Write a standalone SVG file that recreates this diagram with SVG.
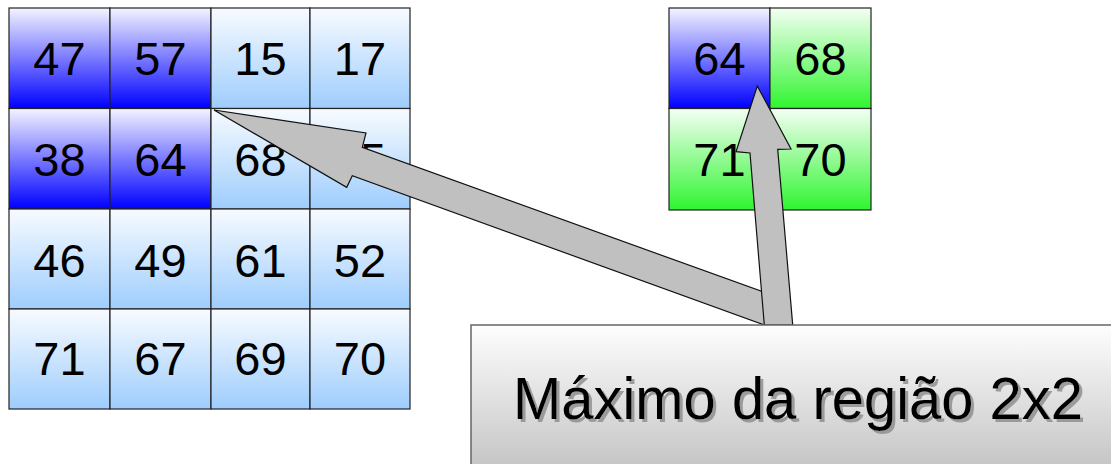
<svg xmlns="http://www.w3.org/2000/svg" width="1111" height="464" viewBox="0 0 1111 464">
<defs>
<linearGradient id="gBlue" x1="0" y1="0" x2="0" y2="1"><stop offset="0" stop-color="#f4f4ff"/><stop offset="1" stop-color="#0000ff"/></linearGradient>
<linearGradient id="gLight" x1="0" y1="0" x2="0" y2="1"><stop offset="0" stop-color="#f8fbff"/><stop offset="1" stop-color="#9ecdfd"/></linearGradient>
<linearGradient id="gGreen" x1="0" y1="0" x2="0" y2="1"><stop offset="0" stop-color="#f4fff4"/><stop offset="1" stop-color="#2ff52f"/></linearGradient>
<linearGradient id="gBox" x1="0" y1="0" x2="0" y2="1"><stop offset="0" stop-color="#fefefe"/><stop offset="1" stop-color="#c2c2c2"/></linearGradient>
<filter id="shadow" x="-5%" y="-20%" width="110%" height="140%">
<feOffset in="SourceAlpha" dx="3" dy="3" result="off"/>
<feFlood flood-color="#8a8a8a" flood-opacity="0.8"/>
<feComposite in2="off" operator="in" result="sh"/>
<feMerge><feMergeNode in="sh"/><feMergeNode in="SourceGraphic"/></feMerge>
</filter>
<style>
.c{stroke:#222;stroke-width:1.2}
.b{fill:url(#gBlue)}
.l{fill:url(#gLight)}
.g{fill:url(#gGreen)}
.t{font-family:"Liberation Sans",Arial,sans-serif;font-size:47px;fill:#000;text-anchor:middle}
.arrow{fill:#c0c0c0;stroke:#111;stroke-width:1.2;stroke-linejoin:miter}
</style>
</defs>
<g id="input-grid">
<rect class="c b" x="9" y="8" width="101" height="100.5"/><text class="t" x="59.5" y="75">47</text>
<rect class="c b" x="110" y="8" width="101" height="100.5"/><text class="t" x="160.5" y="75">57</text>
<rect class="c l" x="211" y="8" width="99" height="100.5"/><text class="t" x="260.5" y="75">15</text>
<rect class="c l" x="310" y="8" width="100" height="100.5"/><text class="t" x="360" y="75">17</text>
<rect class="c b" x="9" y="108.5" width="101" height="100.5"/><text class="t" x="59.5" y="176">38</text>
<rect class="c b" x="110" y="108.5" width="101" height="100.5"/><text class="t" x="160.5" y="176">64</text>
<rect class="c l" x="211" y="108.5" width="99" height="100.5"/><text class="t" x="260.5" y="176">68</text>
<rect class="c l" x="310" y="108.5" width="100" height="100.5"/><text class="t" x="360" y="176">25</text>
<rect class="c l" x="9" y="209" width="101" height="100"/><text class="t" x="59.5" y="276.5">46</text>
<rect class="c l" x="110" y="209" width="101" height="100"/><text class="t" x="160.5" y="276.5">49</text>
<rect class="c l" x="211" y="209" width="99" height="100"/><text class="t" x="260.5" y="276.5">61</text>
<rect class="c l" x="310" y="209" width="100" height="100"/><text class="t" x="360" y="276.5">52</text>
<rect class="c l" x="9" y="309" width="101" height="100"/><text class="t" x="59.5" y="375">71</text>
<rect class="c l" x="110" y="309" width="101" height="100"/><text class="t" x="160.5" y="375">67</text>
<rect class="c l" x="211" y="309" width="99" height="100"/><text class="t" x="260.5" y="375">69</text>
<rect class="c l" x="310" y="309" width="100" height="100"/><text class="t" x="360" y="375">70</text>
</g>
<g id="output-grid">
<rect class="c b" x="669" y="8" width="101" height="100.5"/><text class="t" x="719.5" y="75">64</text>
<rect class="c g" x="770" y="8" width="101" height="100.5"/><text class="t" x="820.5" y="75">68</text>
<rect class="c g" x="669" y="108.5" width="101" height="101.5"/><text class="t" x="719.5" y="176">71</text>
<rect class="c g" x="770" y="108.5" width="101" height="101.5"/><text class="t" x="820.5" y="176">70</text>
</g>
<g id="connectors">
<polygon class="arrow" points="214,110 366,133 362.3,147.3 774.5,296 764.3,325 352.3,175.7 346.7,187.3"/>
<polygon class="arrow" points="757.3,86 791,149 777.7,149.3 792.7,325 764.3,325 750,153 736,151.7"/>
</g>
<g id="label-box">
<rect x="471" y="325" width="700" height="150" fill="url(#gBox)" stroke="#666" stroke-width="1.5"/>
<text x="513" y="419" font-family="Liberation Sans,Arial,sans-serif" font-size="60" fill="#000" textLength="570" lengthAdjust="spacingAndGlyphs" filter="url(#shadow)">Máximo da região 2x2</text>
</g>
</svg>
